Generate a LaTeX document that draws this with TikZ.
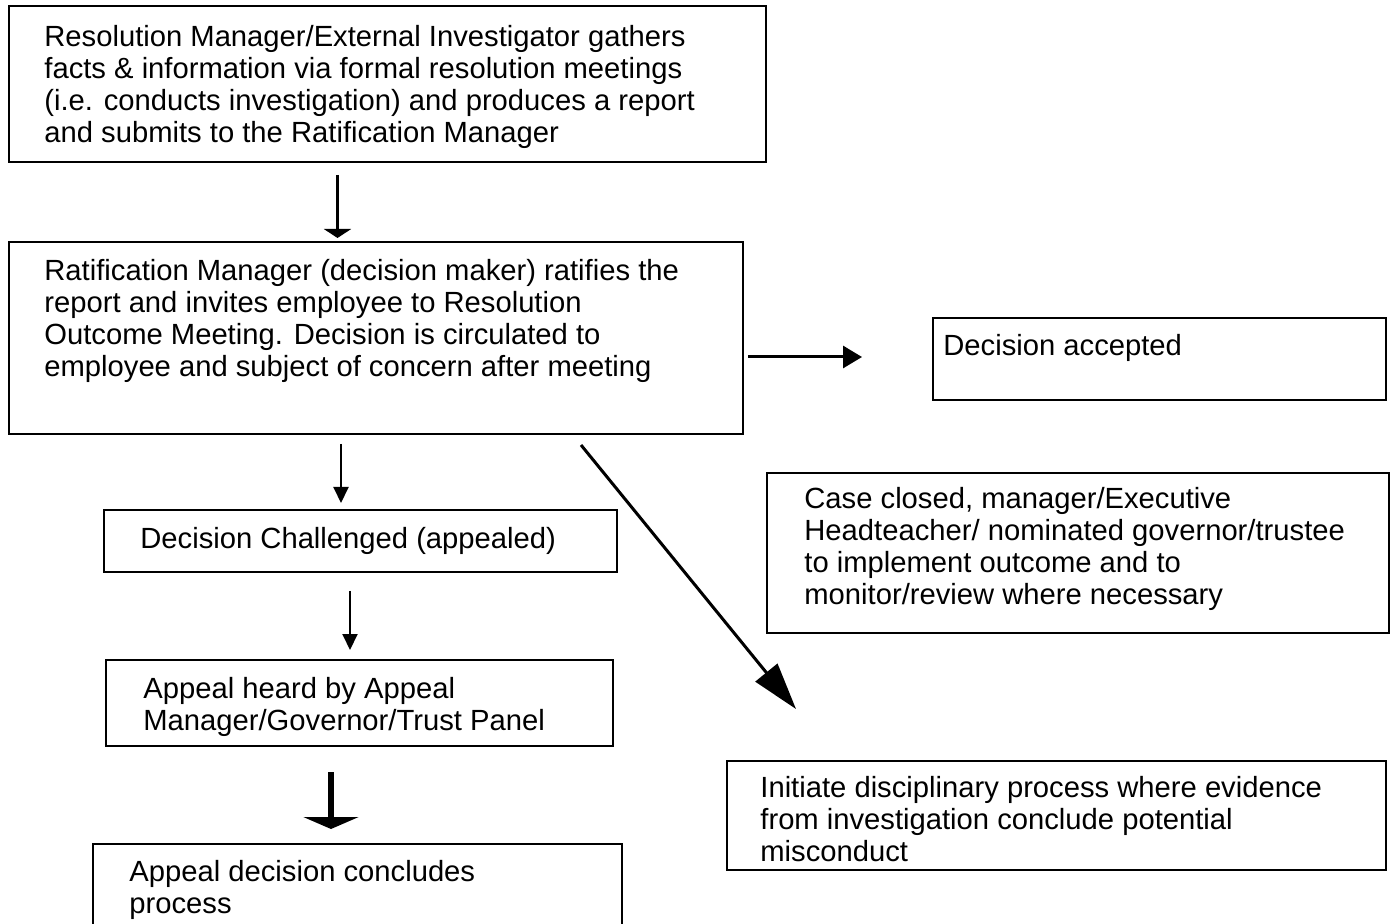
\documentclass[tikz,border=0pt]{standalone}
\usepackage{fontspec}
\setmainfont{Liberation Sans}
\usetikzlibrary{calc,arrows.meta}
\tikzset{
	stepbox/.style={draw, line width=1pt, anchor=north west, inner sep=0pt},
	boxtext/.style={anchor=north west, inner sep=0pt, align=left, font=\fontsize{14.6pt}{16pt}\selectfont},
	flow/.style={line width=1.5pt}
}

\begin{document}
\begin{tikzpicture}[x=0.5pt, y=-0.5pt]
		%%%%% START %%%%%
		\useasboundingbox (0, 0) rectangle (1397, 924);
		\clip (0, 0) rectangle (1397, 924);
		
		\node[stepbox, minimum width=378.5pt, minimum height=78pt] (gather) at (8, 5) {};
		\node[boxtext] (gather-t) at ($(gather.north west)+(36, 18.6)$) {\strut Resolution Manager/External Investigator gathers\\ facts \& information via formal resolution meetings\\ (i.e. conducts investigation) and produces a report\\ and submits to the Ratification Manager};
		
		\node[stepbox, minimum width=367pt, minimum height=96pt] (ratify) at (8, 241) {};
		\node[boxtext] (ratify-t) at ($(ratify.north west)+(36, 16.6)$) {\strut Ratification Manager (decision maker) ratifies the\\ report and invites employee to Resolution\\ Outcome Meeting. Decision is circulated to\\ employee and subject of concern after meeting};
		
		\node[stepbox, minimum width=226.5pt, minimum height=41pt] (accepted) at (932, 317) {};
		\node[boxtext] (accepted-t) at ($(accepted.north west)+(11, 15.6)$) {\strut Decision accepted};
		
		\node[stepbox, minimum width=256.5pt, minimum height=31pt] (challenged) at (103, 509) {};
		\node[boxtext] (challenged-t) at ($(challenged.north west)+(37, 16.6)$) {\strut Decision Challenged (appealed)};
		
		\node[stepbox, minimum width=253.5pt, minimum height=43pt] (heard) at (105, 659) {};
		\node[boxtext] (heard-t) at ($(heard.north west)+(38, 16.6)$) {\strut Appeal heard by Appeal\\ Manager/Governor/Trust Panel};
		
		\node[stepbox, minimum width=264.5pt, minimum height=60pt] (concl) at (92, 843) {};
		\node[boxtext] (concl-t) at ($(concl.north west)+(37, 15.6)$) {\strut Appeal decision concludes\\ process};
		
		\node[stepbox, minimum width=311pt, minimum height=80pt] (closed) at (766, 472) {};
		\node[boxtext] (closed-t) at ($(closed.north west)+(38, 13.6)$) {\strut Case closed, manager/Executive\\ Headteacher/ nominated governor/trustee\\ to implement outcome and to\\ monitor/review where necessary};
		
		\node[stepbox, minimum width=329.5pt, minimum height=54.5pt] (initiate) at (726, 760) {};
		\node[boxtext] (initiate-t) at ($(initiate.north west)+(34, 14.6)$) {\strut Initiate disciplinary process where evidence\\ from investigation conclude potential\\ misconduct};
		
		% connectors
		\draw[flow, -{Triangle[length=4.5pt, width=13.5pt]}] ($(gather.south)+(-50, 12)$) -- ($(gather.south |- ratify.north)+(-50, -3)$);
		\draw[flow, -{Triangle[length=9.5pt, width=11pt]}] ($(ratify.east)+(4, 19)$) -- ($(accepted.west |- ratify.east)+(-70, 19)$);
		\draw[line width=1pt, -{Triangle[length=8pt, width=7.5pt]}] ($(ratify.south)+(-35, 9)$) -- ($(ratify.south |- challenged.north)+(-35, -6)$);
		\draw[line width=1pt, -{Triangle[length=8pt, width=7.5pt]}] ($(challenged.south)+(-10.5, 18)$) -- ($(challenged.south |- heard.north)+(-10.5, -9)$);
		\draw[line width=3pt, -{Triangle[length=6pt, width=27.5pt]}] ($(heard.south)+(-28.5, 25)$) -- ($(heard.south |- concl.north)+(-28.5, -14)$);
		\draw[flow, -{Triangle[length=23.5pt, width=14pt]}] ($(ratify.south east)+(-163, 10)$) -- ($(initiate.north west)+(70, -51)$);
		
		%%%%% END %%%%%
\end{tikzpicture}
\end{document}
